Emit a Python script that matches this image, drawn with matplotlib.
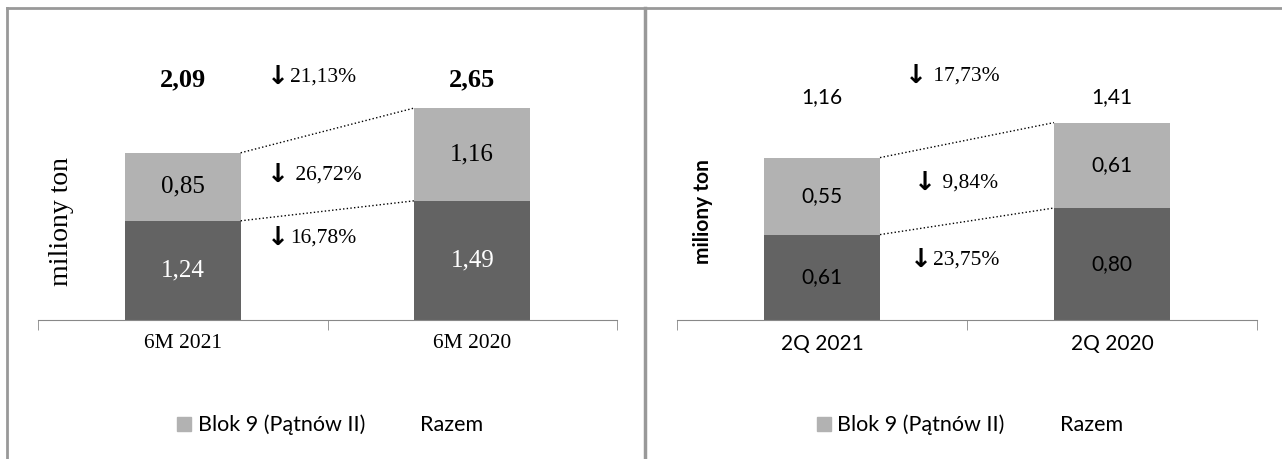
import matplotlib.pyplot as plt
from matplotlib.patches import Patch
from matplotlib.lines import Line2D

# data
left_cats = ["6M 2021", "6M 2020"]
left_base = [1.24, 1.49]
left_blok = [0.85, 1.16]
left_total = ["2,09", "2,65"]
left_pct = ["21,13%", " 26,72%", "16,78%"]

right_cats = ["2Q 2021", "2Q 2020"]
right_base = [0.61, 0.80]
right_blok = [0.55, 0.61]
right_total = ["1,16", "1,41"]
right_pct = [" 17,73%", " 9,84%", "23,75%"]

DARK = "#636363"
LIGHT = "#b2b2b2"
SERIF = ["Liberation Serif", "DejaVu Serif"]
SANS = ["Lato", "DejaVu Sans"]

W, H = 1282, 459
fig = plt.figure(figsize=(W / 100, H / 100), dpi=100)


def px_axes(x0, x1, ybase, ytop):
    return fig.add_axes([x0 / W, (H - ybase) / H, (x1 - x0) / W, (ybase - ytop) / H])


def fmt(v):
    return f"{v:.2f}".replace(".", ",")


def panel(ax, cats, base, blok, totals, pcts, ymax, font, sizes, inner_color, bold_total,
          total_y, pct_pos):
    x = list(range(len(cats)))
    w = 0.4
    tops = [b + t for b, t in zip(base, blok)]
    ax.bar(x, base, width=w, color=DARK)
    ax.bar(x, blok, width=w, bottom=base, color=LIGHT)

    # dotted connectors
    ax.plot([x[0] + w / 2, x[1] - w / 2], [base[0], base[1]], ls=":", color="black", lw=1)
    ax.plot([x[0] + w / 2, x[1] - w / 2], [tops[0], tops[1]], ls=":", color="black", lw=1)

    for i in x:
        ax.text(i, base[i] / 2, fmt(base[i]), ha="center", va="center",
                color=inner_color, fontsize=sizes["val"], family=font)
        ax.text(i, base[i] + blok[i] / 2, fmt(blok[i]), ha="center", va="center",
                color="black", fontsize=sizes["val"], family=font)
        ax.text(i, total_y, totals[i], ha="center", va="center", fontsize=sizes["total"],
                fontweight="bold" if bold_total else "normal", family=font)

    # change labels: bold arrow + percentage
    for label, (px, py) in zip(pcts, pct_pos):
        ax.text(px, py, "\u2193", ha="right", va="center", fontsize=19,
                fontweight="bold", family="DejaVu Sans")
        ax.annotate(label, (px, py), xytext=(1, 0), textcoords="offset points",
                    ha="left", va="center", fontsize=15.5, family=SERIF)

    ax.set_xlim(-0.5, 1.5)
    ax.set_ylim(0, ymax)
    ax.set_xticks(x)
    ax.set_xticklabels(cats, fontsize=sizes["tick"], family=font)
    ax.tick_params(axis="x", length=0, pad=10)
    ax.set_xticks([-0.5, 0.5, 1.5], minor=True)
    ax.tick_params(axis="x", which="minor", length=7, color="#888888", direction="out")
    ax.set_yticks([])
    for s in ["top", "right", "left"]:
        ax.spines[s].set_visible(False)
    ax.spines["bottom"].set_color("#888888")

    handles = [Patch(color=LIGHT), Line2D([], [], color="none")]
    ax.legend(handles, ["Blok 9 (P\u0105tn\u00f3w II)", "Razem"], loc="center",
              bbox_to_anchor=(0.505, -0.375), ncol=2, frameon=False,
              prop={"family": SANS, "size": 15.5}, handlelength=0.65,
              handleheight=0.65, handletextpad=0.3, columnspacing=1.6)


ax1 = px_axes(38, 617, 320, 40)
panel(ax1, left_cats, left_base, left_blok, left_total, left_pct, 3.5, SERIF,
      {"val": 18, "total": 19, "tick": 15.5}, "white", True, 3.0,
      [(0.366, 3.04), (0.366, 1.81), (0.366, 1.03)])
ax1.text(0.041, 0.35, "miliony ton", rotation=90, ha="center", va="center",
         transform=ax1.transAxes, fontsize=20, family=SERIF)

ax2 = px_axes(677, 1257, 320, 40)
panel(ax2, right_cats, right_base, right_blok, right_total, right_pct, 2.0, SANS,
      {"val": 15, "total": 15, "tick": 15}, "black", False, 1.59,
      [(0.362, 1.74), (0.393, 0.98), (0.379, 0.43)])
ax2.text(0.045, 0.386, "miliony ton", rotation=90, ha="center", va="center",
         transform=ax2.transAxes, fontsize=15, fontweight="bold", family=SANS)

# panel frames
border = "#999999"
fig.add_artist(Line2D([7 / W, 7 / W], [0, (H - 8) / H], color=border, lw=2))
fig.add_artist(Line2D([7 / W, 1], [(H - 8) / H, (H - 8) / H], color=border, lw=2))
fig.add_artist(Line2D([645 / W, 645 / W], [0, (H - 8) / H], color=border, lw=2.5))

fig.savefig("out.png", dpi=100)
